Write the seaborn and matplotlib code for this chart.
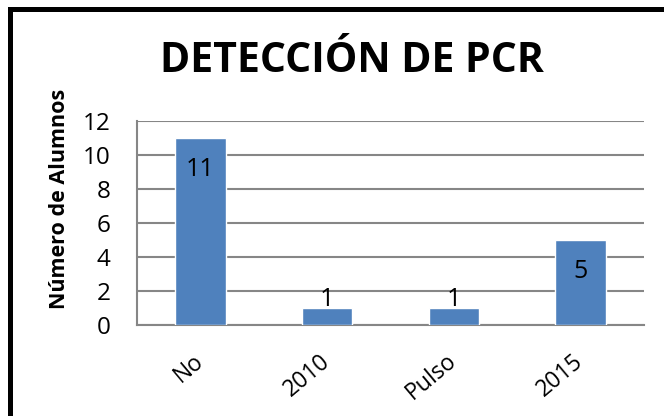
import matplotlib
matplotlib.use("Agg")
import matplotlib.pyplot as plt
from matplotlib.lines import Line2D
import seaborn as sns
import pandas as pd

# Chart data
categories = ['No', '2010', 'Pulso', '2015']
alumnos = [11, 1, 1, 5]

df = pd.DataFrame({'categoria': categories, 'alumnos': alumnos})

sns.set_style('white', {'text.color': 'black', 'axes.labelcolor': 'black',
                        'xtick.color': 'black', 'ytick.color': 'black'})
plt.rcParams['font.family'] = ['Open Sans', 'DejaVu Sans']

fig = plt.figure(figsize=(6.64, 4.16), dpi=100)
ax = fig.add_axes([137 / 664, 1 - 325 / 416, (644 - 137) / 664, (325 - 121) / 416])

sns.barplot(data=df, x='categoria', y='alumnos', color='#4F81BD',
            saturation=1, width=0.4, ax=ax, zorder=3)

# Axis styling
ax.set_ylim(0, 12)
ax.set_yticks(range(0, 13, 2))
ax.yaxis.grid(True, color='#868686', linewidth=1.5, zorder=0)
ax.set_axisbelow(True)
for side in ['top', 'right']:
    ax.spines[side].set_visible(False)
for side in ['left', 'bottom']:
    ax.spines[side].set_color('#868686')
    ax.spines[side].set_linewidth(1.5)
ax.tick_params(axis='y', length=0, labelsize=17.5, pad=19, labelcolor='black')
ax.tick_params(axis='x', length=0, labelsize=16.5, pad=24, labelcolor='black')
for lbl in ax.get_xticklabels():
    lbl.set_rotation(40)
    lbl.set_ha('right')
    lbl.set_va('center')
    lbl.set_rotation_mode('anchor')

ax.set_xlabel('')
ax.set_ylabel('Número de Alumnos', fontsize=15.5, fontweight='bold', color='black')
ax.yaxis.set_label_coords(-0.132, 0.62)

# Data labels: inside the tall bars, above the short ones
for i, v in enumerate(alumnos):
    if v > 2:
        ax.annotate(str(v), (i, v), xytext=(0, -14), textcoords='offset points',
                    ha='center', va='top', fontsize=18, color='black')
    else:
        ax.annotate(str(v), (i, v), xytext=(0, -3), textcoords='offset points',
                    ha='center', va='bottom', fontsize=18, color='black')

fig.text(0.53, 1 - 61 / 416, 'DETECCIÓN DE PCR', ha='center', va='center',
         fontsize=29.5, fontweight='bold', color='black')

# Outer frame: only the top and left edges fall inside the picture
fig.add_artist(Line2D([10 / 664, 10 / 664], [0, 1 - 8.5 / 416], transform=fig.transFigure,
                      color='black', linewidth=3.6, solid_capstyle='projecting'))
fig.add_artist(Line2D([10 / 664, 1], [1 - 8.5 / 416, 1 - 8.5 / 416], transform=fig.transFigure,
                      color='black', linewidth=3.6, solid_capstyle='projecting'))

fig.savefig('out.png', dpi=100)
